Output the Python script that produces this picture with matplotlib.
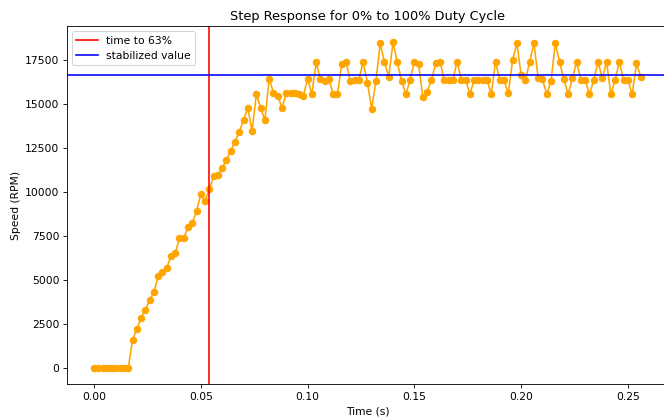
import numpy as np
from matplotlib import pyplot as plt

# sample period of the speed log (s)
dt = 0.002

speed_rpm = [
    0, 0, 0, 0, 0, 0, 0, 0, 0,
    1600, 2200, 2850, 3300, 3850, 4300, 5200, 5470, 5680, 6360, 6530,
    7380, 7380, 8000, 8240, 8920, 9880, 9490, 10170, 10900, 10970,
    11360, 11820, 12330, 12860, 13400, 14090, 14770, 13470, 15550, 14770,
    14090, 16420, 15640, 15470, 14770, 15600, 15600, 15600, 15570, 15470,
    16420, 15550, 17370, 16400, 16300, 16400, 15550, 15550, 17270, 17400,
    16300, 16360, 16360, 17400, 16210, 14720, 16330, 18450, 17370, 16550,
    18500, 17370, 16330, 15550, 16360, 17400, 17250, 15380, 15700, 16360,
    17310, 17400, 16360, 16360, 16360, 17400, 16360, 16360, 15570, 16360,
    16360, 16350, 16350, 15550, 17400, 16350, 16350, 15600, 17500, 18450,
    16650, 16350, 17400, 18450, 16450, 16400, 15550, 16300, 18450, 17400,
    16400, 15550, 16450, 17400, 16350, 16350, 15550, 16350, 17400, 16450,
    17400, 15550, 16350, 17400, 16350, 16350, 15550, 17300, 16550,
]

time_to_63 = 0.054
stabilized_value = 16620


def plot_step_response(time_s, speed):
    fig = plt.figure(figsize=(664 / 77, 419 / 77), dpi=77)
    ax = fig.add_axes([0.1005, 0.0828, 0.9056, 0.855])
    ax.plot(time_s, speed, marker='o', color='orange')
    ax.axvline(time_to_63, color='r', label='time to 63%')
    ax.axhline(stabilized_value, color='b', label='stabilized value')
    ax.set_title('Step Response for 0% to 100% Duty Cycle')
    ax.set_xlabel('Time (s)')
    ax.set_ylabel('Speed (RPM)')
    ax.legend(loc='upper left')
    return fig


def main():
    speed = np.array(speed_rpm)
    time_s = np.arange(len(speed)) * dt
    fig = plot_step_response(time_s, speed)
    fig.savefig('out.png', dpi=77)


if __name__ == "__main__":
    main()
